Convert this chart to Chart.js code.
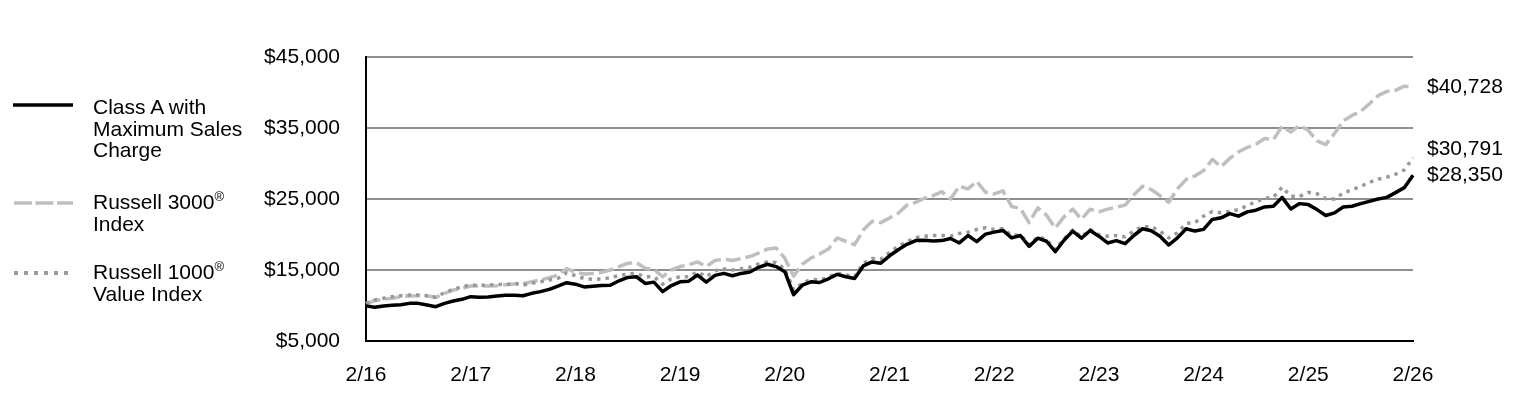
<!DOCTYPE html>
<html lang="en">
<head>
<meta charset="UTF-8">
<title>Growth of $10,000</title>
<script src="https://cdn.jsdelivr.net/npm/chart.js@4"></script>
<style>
  body { margin: 0; background: #fff; }
  .wrap { position: relative; width: 1524px; height: 408px; font-family: Arial, "Liberation Sans", sans-serif; }
  #chart { position: absolute; left: 0; top: 0; }
  #keys { position: absolute; left: 0; top: 0; }
  .txt { position: absolute; left: 93px; font-size: 21px; line-height: 21.7px; white-space: nowrap; color: #000; }
  .txt sup { font-size: 13px; line-height: 0; vertical-align: 8px; }
</style>
</head>
<body>
<div class="wrap">
  <canvas id="chart" width="1524" height="408"></canvas>
  <!-- legend -->
  <svg id="keys" width="1524" height="408">
    <line x1="13" y1="105" x2="73" y2="105" stroke="#000" stroke-width="3.5"/>
    <line x1="14" y1="203" x2="73" y2="203" stroke="#bfbfbf" stroke-width="3.5" stroke-dasharray="18 3.5"/>
    <line x1="14" y1="273" x2="72" y2="273" stroke="#9b9b9b" stroke-width="4" stroke-dasharray="4 6"/>
  </svg>
  <div class="txt" style="top:96px">Class A with<br>Maximum Sales<br>Charge</div>
  <div class="txt" style="top:191px">Russell 3000<sup>®</sup><br>Index</div>
  <div class="txt" style="top:261px">Russell 1000<sup>®</sup><br>Value Index</div>
</div>

<script>
  // month-end labels 2/16 .. 2/26
  const months = [];
  for (let i = 0; i <= 120; i++) {
    months.push(((1 + i) % 12 + 1) + '/' + (16 + Math.floor((i + 1) / 12)));
  }

  const classA = [
    9950, 9740, 9930, 10020, 10120, 10300, 10300, 10070, 9835, 10300, 10630, 10870,
    11240, 11150, 11200, 11340, 11430, 11430, 11380, 11715, 11950, 12270, 12740, 13210,
    13000, 12620, 12715, 12810, 12860, 13480, 13950, 14050, 13100, 13290, 11950, 12810,
    13330, 13430, 14290, 13290, 14240, 14520, 14190, 14520, 14710, 15380, 15810, 15480,
    14760, 11520, 12860, 13330, 13240, 13760, 14380, 14050, 13810, 15570, 16140, 15950,
    17000, 17860, 18620, 19140, 19190, 19100, 19140, 19430, 18810, 19860, 19000, 20050,
    20330, 20570, 19520, 19860, 18330, 19480, 19050, 17570, 19190, 20480, 19480, 20570,
    19760, 18810, 19140, 18710, 19860, 20810, 20520, 19760, 18520, 19520, 20810, 20480,
    20720, 22120, 22350, 22950, 22580, 23190, 23420, 23880, 23980, 25230, 23600, 24350,
    24210, 23510, 22670, 23050, 23880, 23980, 24350, 24670, 25000, 25230, 25900, 26600, 28350
  ];

  const russell3000 = [
    10250, 10680, 10870, 11010, 11240, 11340, 11380, 11340, 11150, 11715, 12180, 12410,
    12740, 12740, 12740, 12780, 12930, 13030, 13070, 13355, 13590, 13920, 14295, 15200,
    14710, 14430, 14520, 14670, 15000, 15480, 15950, 16050, 15240, 15100, 14050, 15000,
    15480, 15710, 16140, 15480, 16330, 16520, 16330, 16620, 16900, 17380, 17950, 18100,
    16670, 14140, 15810, 16670, 17240, 17950, 19520, 19050, 18570, 20620, 21860, 21670,
    22330, 23000, 24140, 24520, 25100, 25480, 26050, 25000, 26810, 26430, 27480, 25950,
    25710, 26140, 23950, 23670, 21670, 23760, 22710, 20900, 22480, 23570, 22140, 23570,
    23190, 23570, 23860, 24140, 25570, 26810, 26330, 25480, 24520, 26430, 27760, 28240,
    29000, 30580, 29560, 30720, 31650, 32260, 32720, 33510, 33370, 35230, 34440, 35370,
    34670, 33190, 32670, 34210, 35980, 36770, 37330, 38390, 39560, 40160, 40300, 40900, 40728
  ];

  const russell1000Value = [
    10300, 10775, 11010, 11240, 11380, 11480, 11480, 11380, 11150, 11810, 12270, 12650,
    12880, 12830, 12880, 12980, 12930, 13120, 12880, 13120, 13355, 13590, 13820, 14600,
    14200, 13810, 13670, 13760, 13900, 14240, 14430, 14520, 14050, 14050, 13000, 13760,
    14050, 14050, 14710, 14050, 14900, 15140, 15000, 15190, 15380, 15860, 16140, 16050,
    15100, 12240, 13100, 13710, 13570, 14000, 14520, 14330, 14050, 15950, 16620, 16520,
    17480, 18330, 19000, 19570, 19760, 19860, 19860, 19760, 20140, 20330, 20710, 20950,
    20710, 20810, 19860, 19950, 18570, 19670, 19290, 17860, 19380, 20620, 19670, 20710,
    19950, 19760, 19860, 19670, 20480, 21100, 21100, 20480, 19520, 20240, 21570, 21670,
    22580, 23230, 23050, 23230, 23510, 24070, 24630, 25090, 25230, 26670, 25370, 25370,
    25930, 25740, 25050, 25000, 25840, 26300, 26770, 27330, 27790, 28070, 28490, 29090, 30791
  ];

  const money = v => '$' + v.toLocaleString('en-US');
  const font = { family: 'Arial, "Liberation Sans", sans-serif', size: 21 };

  // end-of-line value labels; the 1000 Value label is lifted to clear the Class A one
  const labelNudge = [0, -9, 0];
  const endLabels = {
    id: 'endLabels',
    afterDatasetsDraw(chart) {
      const ctx = chart.ctx;
      const y = chart.scales.y;
      ctx.save();
      ctx.font = '21px Arial, "Liberation Sans", sans-serif';
      ctx.fillStyle = '#000';
      ctx.textAlign = 'left';
      ctx.textBaseline = 'middle';
      chart.data.datasets.forEach((ds, i) => {
        const v = ds.data[ds.data.length - 1];
        ctx.fillText(money(v), chart.chartArea.right + 14, y.getPixelForValue(v) + labelNudge[i]);
      });
      ctx.restore();
    }
  };

  new Chart(document.getElementById('chart'), {
    type: 'line',
    data: {
      labels: months,
      datasets: [
        { label: 'Class A with Maximum Sales Charge', data: classA, borderColor: '#000', borderWidth: 3.5 },
        { label: 'Russell 1000® Value Index', data: russell1000Value, borderColor: '#999', borderWidth: 3.5, borderDash: [3.5, 5] },
        { label: 'Russell 3000® Index', data: russell3000, borderColor: '#bfbfbf', borderWidth: 3.5, borderDash: [15, 5] }
      ]
    },
    options: {
      responsive: false,
      animation: false,
      devicePixelRatio: 1,
      layout: { padding: { left: 0, top: 57, right: 111, bottom: 0 } },
      elements: { point: { radius: 0 }, line: { tension: 0, borderJoinStyle: 'round' } },
      plugins: { legend: { display: false }, tooltip: { enabled: false } },
      scales: {
        x: {
          type: 'category',
          offset: false,
          grid: { display: false, drawTicks: false },
          border: { display: true, color: '#000', width: 2 },
          ticks: {
            autoSkip: false, maxRotation: 0, minRotation: 0, padding: 22,
            color: '#000', font: font,
            callback: (v, i) => i % 12 === 0 ? months[i] : ''
          },
          afterFit: s => { s.height = 67; }
        },
        y: {
          min: 5000, max: 45000,
          grid: { color: '#8f8f8f', lineWidth: 2, drawTicks: false },
          border: { display: true, color: '#000', width: 2 },
          ticks: { stepSize: 10000, padding: 26, color: '#000', font: font, callback: v => money(v) },
          afterFit: s => { s.width = 366; }
        }
      }
    },
    plugins: [endLabels]
  });
</script>
</body>
</html>
